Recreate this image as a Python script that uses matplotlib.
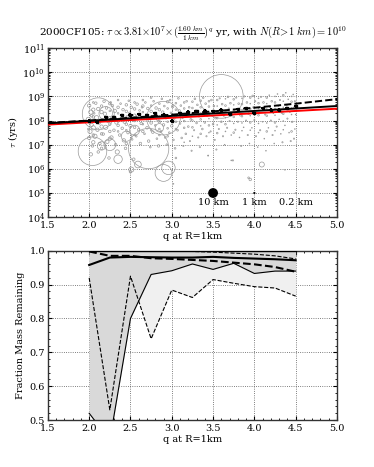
#plot.py
#tau vs q for 2000CF105 and fraction of mass remaining (two panels)
import numpy as np
import matplotlib
matplotlib.use('Agg')
from matplotlib import pyplot as plt
from matplotlib.ticker import MultipleLocator

plt.rcParams['font.family'] = ['DejaVu Serif']
plt.rcParams['mathtext.fontset'] = 'cm'
plt.rcParams['font.size'] = 7
#============================================================================================================#
#Scatter of individual objects: q, log10(tau), radius in km
#main cloud, columns near q = 2.0, 2.1, ... 4.5
cloud_q = [2.00, 2.02, 1.99, 2.03, 2.01, 2.00, 2.04, 2.02, 2.03, 1.99,
           2.08, 2.11, 2.09, 2.12, 2.10, 2.07, 2.13, 2.11, 2.06,
           2.18, 2.21, 2.19, 2.23, 2.20, 2.17, 2.22, 2.24, 2.16,
           2.28, 2.31, 2.29, 2.33, 2.30, 2.27, 2.32, 2.34, 2.26,
           2.38, 2.41, 2.39, 2.43, 2.40, 2.37, 2.42, 2.44, 2.36,
           2.48, 2.51, 2.49, 2.53, 2.50, 2.47, 2.52, 2.54, 2.46,
           2.58, 2.61, 2.59, 2.63, 2.60, 2.57, 2.62, 2.64,
           2.68, 2.71, 2.69, 2.73, 2.70, 2.67, 2.72, 2.74,
           2.78, 2.81, 2.79, 2.83, 2.80, 2.77, 2.82, 2.84,
           2.88, 2.91, 2.89, 2.93, 2.90, 2.87, 2.92, 2.94,
           2.98, 3.01, 2.99, 3.03, 3.00, 2.97, 3.02, 3.04,
           3.08, 3.11, 3.09, 3.13, 3.10, 3.07, 3.12, 3.14,
           3.18, 3.21, 3.19, 3.23, 3.20, 3.17, 3.22, 3.24,
           3.28, 3.31, 3.29, 3.33, 3.30, 3.27, 3.32, 3.34,
           3.38, 3.41, 3.39, 3.43, 3.40, 3.37, 3.42, 3.44,
           3.48, 3.51, 3.49, 3.53, 3.50, 3.47, 3.52, 3.54,
           3.58, 3.61, 3.59, 3.63, 3.60, 3.57, 3.62, 3.64,
           3.68, 3.71, 3.69, 3.73, 3.70, 3.67, 3.72, 3.74,
           3.78, 3.81, 3.79, 3.83, 3.80, 3.77, 3.82, 3.84,
           3.88, 3.91, 3.89, 3.93, 3.90, 3.87, 3.92, 3.94,
           3.98, 4.01, 3.99, 4.03, 4.00, 3.97, 4.02, 4.04,
           4.08, 4.11, 4.09, 4.13, 4.10, 4.07, 4.12, 4.14,
           4.18, 4.21, 4.19, 4.23, 4.20, 4.17, 4.22, 4.24,
           4.28, 4.31, 4.29, 4.33, 4.30, 4.27, 4.32, 4.34,
           4.38, 4.41, 4.39, 4.43, 4.40, 4.37, 4.42, 4.44,
           4.47, 4.49, 4.48, 4.50, 4.46, 4.49, 4.48]
cloud_lt = [8.62, 8.35, 8.05, 7.82, 7.55, 7.28, 6.95, 6.60, 8.20, 7.65,
            8.72, 8.48, 8.12, 7.90, 7.62, 7.35, 7.05, 6.70, 8.30,
            8.80, 8.52, 8.28, 7.98, 7.72, 7.44, 7.12, 6.45, 8.05,
            8.62, 8.40, 8.18, 7.92, 7.60, 7.30, 7.00, 6.70, 8.75,
            8.70, 8.45, 8.22, 7.95, 7.68, 7.40, 7.18, 6.85, 8.05,
            8.82, 8.55, 8.30, 8.02, 7.78, 7.50, 7.22, 6.40, 8.15,
            8.68, 8.42, 8.20, 7.88, 7.62, 7.35, 7.05, 8.55,
            8.75, 8.50, 8.25, 8.00, 7.70, 7.45, 7.15, 6.90,
            8.80, 8.52, 8.28, 8.05, 7.80, 7.52, 7.25, 6.95,
            8.90, 8.60, 8.35, 8.10, 7.82, 7.55, 7.30, 7.00,
            8.85, 8.58, 8.32, 8.08, 7.78, 7.50, 7.20, 6.85,
            8.92, 8.62, 8.40, 8.12, 7.88, 7.60, 7.28, 6.95,
            8.80, 8.55, 8.30, 8.05, 7.75, 7.45, 7.15, 6.75,
            8.90, 8.65, 8.42, 8.18, 7.90, 7.60, 7.30, 6.90,
            8.95, 8.70, 8.45, 8.20, 7.92, 7.65, 7.35, 6.55,
            8.85, 8.60, 8.38, 8.10, 7.85, 7.55, 7.20, 6.80,
            8.92, 8.68, 8.45, 8.20, 7.95, 7.65, 7.35, 7.00,
            8.98, 8.72, 8.50, 8.25, 7.98, 7.70, 7.40, 6.35,
            8.95, 8.70, 8.48, 8.22, 7.95, 7.62, 7.30, 6.95,
            9.00, 8.75, 8.52, 8.28, 8.00, 7.72, 7.40, 7.05,
            9.02, 8.80, 8.55, 8.30, 8.02, 7.70, 7.35, 6.90,
            8.98, 8.75, 8.52, 8.25, 7.95, 7.60, 7.25, 6.75,
            9.05, 8.80, 8.55, 8.30, 8.00, 7.70, 7.40, 7.05,
            9.10, 8.85, 8.60, 8.32, 8.05, 7.75, 7.45, 7.10,
            9.15, 8.88, 8.62, 8.35, 8.08, 7.80, 7.50, 7.15,
            9.08, 8.80, 8.55, 8.25, 7.95, 7.65, 7.25]
cloud_r = [4, 5, 5, 4, 5, 4, 3, 4, 3, 2,
           3, 4, 5, 3, 4, 5, 3, 3, 2,
           3, 3, 4, 4, 5, 3, 4, 3, 2,
           3, 4, 2, 4, 3, 4, 3, 5, 2,
           2, 3, 3, 4, 3, 3, 4, 3, 3,
           2, 3, 3, 3, 4, 3, 2, 3, 3,
           3, 2, 3, 3, 3, 2, 3, 2,
           2, 3, 2, 3, 3, 2, 3, 2,
           2, 3, 2, 3, 2, 3, 2, 3,
           2, 2, 3, 2, 3, 2, 2, 2,
           2, 3, 2, 2, 3, 2, 2, 2,
           2, 2, 3, 2, 2, 2, 2, 1.5,
           2, 2, 2, 2, 2, 2, 1.5, 1.5,
           2, 2, 2, 2, 2, 1.5, 1.5, 1.5,
           2, 2, 1.5, 2, 2, 2, 1.5, 1,
           2, 2, 1.5, 2, 2, 1.5, 1.5, 1.5,
           1.5, 2, 2, 1.5, 2, 1.5, 1.5, 1,
           2, 2, 1.5, 2, 1.5, 1.5, 1, 1.5,
           1.5, 2, 1.5, 2, 1.5, 1.5, 1, 1.5,
           1.5, 2, 1.5, 2, 1.5, 1, 1.5, 1,
           2, 1.5, 2, 1.5, 1.5, 1, 1.5, 1,
           1.5, 2, 1, 1.5, 1, 1.5, 1, 1,
           1, 2, 1.5, 1, 1.5, 1, 1.5, 1,
           1, 1.5, 1, 1.5, 1, 1.5, 1, 1.5,
           1, 1, 1.5, 1, 1.5, 1, 1, 1.5,
           1, 1.5, 1, 1, 1.5, 1, 1.5]
#second cloud, columns near q = 2.05, 2.15, ... 4.45
cloud2_q = [2.05]*6 + [2.15]*6 + [2.25]*6 + [2.35]*6 + [2.45]*6 + [2.55]*6 + [2.65]*6 + \
           [2.75]*6 + [2.85]*6 + [2.95]*6 + [3.05]*6 + [3.15]*6 + [3.25]*6 + [3.35]*6 + \
           [3.45]*6 + [3.55]*6 + [3.65]*6 + [3.75]*6 + [3.85]*6 + [3.95]*6 + [4.05]*6 + \
           [4.15]*6 + [4.25]*6 + [4.35]*6 + [4.45]*6
cloud2_lt = [8.45, 8.15, 7.70, 7.40, 8.75, 7.10,
             8.60, 8.35, 8.00, 7.75, 7.45, 6.85,
             8.70, 8.40, 8.10, 7.85, 7.55, 7.25,
             8.85, 8.55, 8.30, 8.00, 7.80, 7.55,
             8.65, 8.38, 8.12, 7.85, 7.60, 7.05,
             8.75, 8.48, 8.22, 7.98, 7.72, 7.40,
             8.85, 8.60, 8.35, 8.10, 7.85, 7.55,
             8.95, 8.62, 8.38, 8.15, 7.90, 7.60,
             8.70, 8.45, 8.18, 7.95, 7.65, 7.40,
             8.78, 8.50, 8.22, 7.95, 7.68, 7.35,
             8.72, 8.45, 8.20, 7.95, 7.65, 6.45,
             8.75, 8.50, 8.25, 7.98, 7.70, 7.10,
             8.78, 8.52, 8.28, 8.00, 7.72, 7.35,
             8.82, 8.55, 8.30, 8.05, 7.78, 7.45,
             8.80, 8.58, 8.32, 8.08, 7.80, 7.50,
             8.85, 8.60, 8.35, 8.10, 7.82, 7.48,
             8.90, 8.62, 8.40, 8.12, 7.85, 7.55,
             8.88, 8.65, 8.42, 8.15, 7.88, 7.50,
             8.92, 8.68, 8.45, 8.18, 7.90, 7.58,
             8.95, 8.70, 8.48, 8.20, 7.92, 7.60,
             8.92, 8.72, 8.50, 8.22, 7.88, 7.50,
             8.95, 8.70, 8.48, 8.20, 7.90, 7.55,
             9.00, 8.75, 8.50, 8.22, 7.92, 7.58,
             9.05, 8.80, 8.55, 8.28, 7.98, 7.62,
             9.00, 8.78, 8.52, 8.25, 7.95, 7.55]
cloud2_r = [4, 3, 5, 3, 2, 4,
            3, 4, 3, 4, 3, 3,
            3, 2, 4, 3, 3, 4,
            2, 3, 2, 4, 3, 2,
            3, 3, 2, 3, 2, 3,
            2, 3, 3, 2, 3, 2,
            2, 3, 2, 3, 2, 3,
            2, 2, 3, 2, 3, 2,
            2, 3, 2, 3, 2, 2,
            3, 2, 2, 2, 2, 2,
            2, 2, 3, 2, 2, 2,
            2, 2, 2, 2, 2, 1,
            2, 2, 2, 2, 2, 1,
            2, 2, 2, 2, 1, 2,
            2, 2, 2, 1, 2, 1,
            2, 1, 2, 2, 1, 2,
            1, 2, 2, 1, 2, 1,
            2, 1, 2, 2, 1, 2,
            1, 2, 1, 2, 1, 1,
            2, 1, 2, 1, 2, 1,
            1, 2, 1, 2, 1, 1,
            2, 1, 1, 2, 1, 2,
            1, 2, 1, 1, 2, 1,
            2, 1, 1, 2, 1, 1,
            1, 2, 1, 1, 1, 2]
#large objects and stragglers
big_q = [2.11, 2.04, 2.72, 2.90, 3.60, 2.90, 2.96, 4.09, 2.59, 2.51,
         3.93, 3.95, 2.50, 3.02, 4.37, 3.44, 3.72,
         2.25, 2.45, 2.15, 2.35, 2.55, 2.85, 2.20]
big_lt = [8.28, 6.73, 6.84, 8.10, 9.00, 5.83, 6.04, 6.18, 6.18, 5.97,
          5.63, 5.56, 5.88, 5.38, 5.96, 6.55, 6.35,
          7.00, 7.35, 6.95, 6.40, 7.60, 7.70, 8.30]
big_r = [38, 34, 48, 40, 52, 20, 16, 6, 8, 6,
         2, 3, 3, 1, 1, 1, 1,
         14, 12, 10, 10, 12, 10, 16]
#Binned medians (black markers)
med_q = [2.0, 2.1, 2.2, 2.3, 2.4, 2.5, 2.6, 2.7, 2.8, 2.9, 3.0, 3.1, 3.2,
         3.3, 3.4, 3.5, 3.6, 3.7, 3.8, 3.9, 4.0, 4.1, 4.2, 4.3, 4.4, 4.5]
med_lt = [8.00, 7.93, 8.14, 8.14, 8.22, 8.25, 8.27, 8.21, 8.31, 8.25, 8.00, 8.31, 8.36,
          8.38, 8.41, 8.38, 8.45, 8.29, 8.48, 8.52, 8.31, 8.52, 8.45, 8.45, 8.52, 8.59]
#Fit lines
fit_q = [1.5, 5.0]
fit_tau = [7.7e7, 4.0e8]
red_tau = [6.8e7, 3.1e8]
dash_q = [1.5, 2.0, 2.5, 3.0, 3.5, 4.0, 4.5, 5.0]
dash_tau = [8.0e7, 1.0e8, 1.3e8, 1.75e8, 2.4e8, 3.4e8, 5.0e8, 7.7e8]
#Size key
key_q = [3.5, 4.0, 4.5]
key_r = [10, 1, 0.2]
key_lab = ['10 km', '1 km', '0.2 km']
#============================================================================================================#
#Bottom panel: fraction of mass remaining
fm_q = [2.0, 2.25, 2.5, 2.75, 3.0, 3.25, 3.5, 3.75, 4.0, 4.25, 4.5]
solid_min = [0.52, 0.44, 0.80, 0.93, 0.941, 0.961, 0.945, 0.963, 0.933, 0.94, 0.94]
solid_med = [0.958, 0.98, 0.982, 0.981, 0.98, 0.98, 0.982, 0.979, 0.977, 0.975, 0.972]
solid_max = [1.0, 1.0, 1.0, 1.0, 1.0, 1.0, 1.0, 1.0, 1.0, 1.0, 1.0]
dash_min = [0.92, 0.53, 0.925, 0.74, 0.884, 0.862, 0.915, 0.904, 0.894, 0.89, 0.866]
dash_med = [0.998, 0.985, 0.985, 0.978, 0.976, 0.973, 0.97, 0.965, 0.96, 0.952, 0.938]
dash_max = [1.0, 1.0, 1.0, 1.0, 1.0, 0.998, 0.996, 0.993, 0.99, 0.985, 0.976]
#============================================================================================================#
fig = plt.figure(figsize=(3.74, 4.67), dpi=100)
ax1 = fig.add_axes([0.128, 0.535, 0.773, 0.362])
ax2 = fig.add_axes([0.128, 0.1006, 0.773, 0.3624])

#marker diameter in points: radius in pixels ~0.42*R(km)
def rsize(rs):
    return [(0.84*r*72/100.)**2 for r in rs]

all_q = cloud_q + cloud2_q + big_q
all_lt = cloud_lt + cloud2_lt + big_lt
all_r = cloud_r + cloud2_r + big_r
ax1.scatter(all_q, [10**v for v in all_lt], s=rsize(all_r), facecolors='none',
            edgecolors='#999999', linewidths=0.5, zorder=2)
ax1.plot(fit_q, red_tau, color='red', lw=1.4, zorder=3)
ax1.plot(fit_q, fit_tau, color='black', lw=1.4, zorder=4)
ax1.plot(dash_q, dash_tau, color='black', lw=1.4, ls='--', zorder=4)
med_tau = [10**v for v in med_lt]
ax1.errorbar(med_q, med_tau, xerr=0.025, yerr=[[t*0.12 for t in med_tau], [t*0.14 for t in med_tau]],
             fmt='s', ms=1.6, color='black', elinewidth=1.4, capsize=0, zorder=5)
ax1.scatter(key_q, [1e5]*3, s=rsize(key_r), color='black', zorder=5)
for q, lab in zip(key_q, key_lab):
    ax1.text(q, 10**4.6, lab, ha='center', va='center', fontsize=7)

ax1.set_yscale('log')
ax1.set_xlim(1.5, 5.0)
ax1.set_ylim(1e4, 1e11)
ax1.set_xlabel('q at R=1km', labelpad=1)
ax1.set_ylabel(r'$\tau$ (yrs)', labelpad=2)
fig.text(0.5145, 0.929,
         r'2000CF105: $\tau\propto3.81{\times}10^7{\times}(\frac{1.60\ km}{1\ km})^q$ yr, with $N(R\!>\!1\ km)=10^{10}$',
         ha='center', va='center', fontsize=7.5)

#bottom panel
ax2.fill_between(fm_q, dash_min, dash_max, color='#f0f0f0', lw=0, zorder=1)
ax2.fill_between(fm_q, solid_min, solid_max, color='#d9d9d9', lw=0, zorder=1)
ax2.plot(fm_q, solid_min, color='black', lw=0.8, zorder=3)
ax2.plot(fm_q, solid_max, color='black', lw=0.8, zorder=3)
ax2.plot(fm_q, solid_med, color='black', lw=1.5, zorder=3)
ax2.plot(fm_q, dash_min, color='black', lw=0.8, ls='--', zorder=3)
ax2.plot(fm_q, dash_max, color='black', lw=0.8, ls='--', zorder=3)
ax2.plot(fm_q, dash_med, color='black', lw=1.5, ls='--', zorder=3)
ax2.set_xlim(1.5, 5.0)
ax2.set_ylim(0.5, 1.0)
ax2.set_xlabel('q at R=1km', labelpad=1)
ax2.set_ylabel('Fraction Mass Remaining', labelpad=3)
ax2.yaxis.set_major_locator(MultipleLocator(0.1))
ax2.yaxis.set_minor_locator(MultipleLocator(0.02))

for ax in (ax1, ax2):
    ax.xaxis.set_major_locator(MultipleLocator(0.5))
    ax.xaxis.set_minor_locator(MultipleLocator(0.1))
    ax.grid(True, which='major', ls=':', color='#555555', lw=0.6, zorder=0)
    ax.set_axisbelow(True)
    ax.tick_params(which='both', direction='in', top=True, right=True, labelsize=7, pad=2)
    ax.tick_params(which='major', length=3)
    ax.tick_params(which='minor', length=1.5)
    ax.tick_params(axis='x', pad=3)
    for sp in ax.spines.values():
        sp.set_linewidth(1.0)
        sp.set_color('#333333')

fig.savefig('out.png', dpi=100)
